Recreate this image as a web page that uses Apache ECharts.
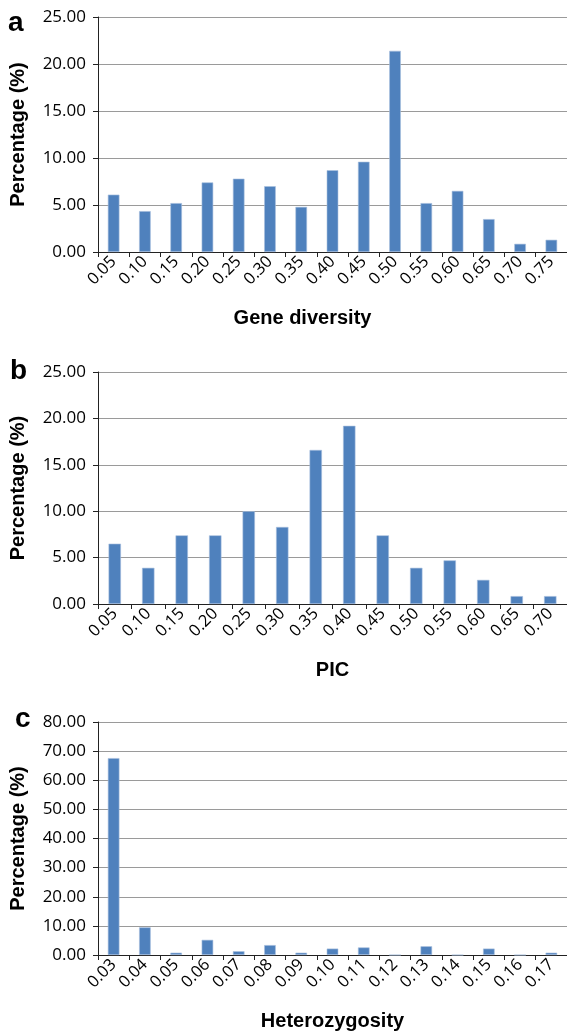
<!DOCTYPE html>
<html>
<head>
<meta charset="utf-8">
<script src="https://cdn.jsdelivr.net/npm/echarts@6/dist/echarts.min.js"></script>
<style>
html,body{margin:0;padding:0;background:#fff;}
#chart{width:567px;height:1032px;}
</style>
</head>
<body>
<div id="chart"></div>
<script>
// ---- Data ----
const geneDiversityCategories = ['0.05','0.10','0.15','0.20','0.25','0.30','0.35','0.40','0.45','0.50','0.55','0.60','0.65','0.70','0.75'];
const geneDiversityValues = [6.1, 4.35, 5.2, 7.4, 7.8, 7.0, 4.8, 8.7, 9.6, 21.4, 5.2, 6.5, 3.5, 0.87, 1.3];

const picCategories = ['0.05','0.10','0.15','0.20','0.25','0.30','0.35','0.40','0.45','0.50','0.55','0.60','0.65','0.70'];
const picValues = [6.5, 3.9, 7.4, 7.4, 10.0, 8.3, 16.6, 19.2, 7.4, 3.9, 4.7, 2.6, 0.85, 0.85];

const hetCategories = ['0.03','0.04','0.05','0.06','0.07','0.08','0.09','0.10','0.11','0.12','0.13','0.14','0.15','0.16','0.17'];
const hetValues = [67.6, 9.5, 0.8, 5.2, 1.3, 3.4, 0.8, 2.2, 2.6, 0, 3.0, 0, 2.2, 0, 0.8];

const panelLetters = ['a','b','c'];
const xAxisNames = ['Gene diversity','PIC','Heterozygosity'];
const yAxisName = 'Percentage (%)';
const yMax = [25, 25, 80];
const yInterval = [5, 5, 10];

// ---- Chart ----
const chart = echarts.init(document.getElementById('chart'), null, {renderer:'canvas'});
const grids = [
  {left:98, right:0, top:17, height:235},
  {left:98, right:0, top:372, height:232},
  {left:98, right:0, top:722, height:233}
];
const cats = [geneDiversityCategories, picCategories, hetCategories];
const vals = [geneDiversityValues, picValues, hetValues];
const tickFont = 'Open Sans';
const axisColor = '#222';
const xNamePadding = [[0,60,0,0],[0,0,0,0],[0,0,0,0]];

const xAxes = cats.map((c,i)=>({
  type:'category', gridIndex:i, data:c, boundaryGap:true,
  axisLine:{show:true, lineStyle:{color:axisColor, width:1}},
  axisTick:{show:true, alignWithLabel:false, length:5, lineStyle:{color:axisColor}},
  axisLabel:{rotate:45, margin:7, color:'#000', fontFamily:tickFont, fontSize:16.5, interval:0},
  name:xAxisNames[i], nameLocation:'middle', nameGap:56,
  nameTextStyle:{fontFamily:'Liberation Sans', fontWeight:'bold', fontSize:20, color:'#000', padding:xNamePadding[i]}
}));
const yAxes = cats.map((c,i)=>({
  type:'value', gridIndex:i, min:0, max:yMax[i], interval:yInterval[i],
  axisLine:{show:true, lineStyle:{color:axisColor, width:1}},
  axisTick:{show:true, length:5, lineStyle:{color:axisColor}},
  axisLabel:{margin:12, color:'#000', fontFamily:tickFont, fontSize:17, formatter:v=>v.toFixed(2)},
  splitLine:{show:true, lineStyle:{color:'#9a9a9a', width:1}},
  name:yAxisName, nameLocation:'middle', nameGap:70, nameRotate:90,
  nameTextStyle:{fontFamily:'Liberation Sans', fontWeight:'bold', fontSize:20, color:'#000'}
}));
const series = vals.map((v,i)=>({
  type:'bar', xAxisIndex:i, yAxisIndex:i, data:v, barWidth:'37%',
  itemStyle:{color:'#4F81BD', borderColor:'#A7BFDE', borderWidth:0.6},
  silent:true, animation:false
}));
const letterPos = [[8,9],[10,357],[15,705]];
const graphic = panelLetters.map((t,i)=>({
  type:'text', left:letterPos[i][0], top:letterPos[i][1],
  style:{text:t, font:'bold 28px "Liberation Sans"', fill:'#000'}
}));

chart.setOption({
  animation:false,
  grid:grids, xAxis:xAxes, yAxis:yAxes, series:series, graphic:graphic
});
</script>
</body>
</html>
